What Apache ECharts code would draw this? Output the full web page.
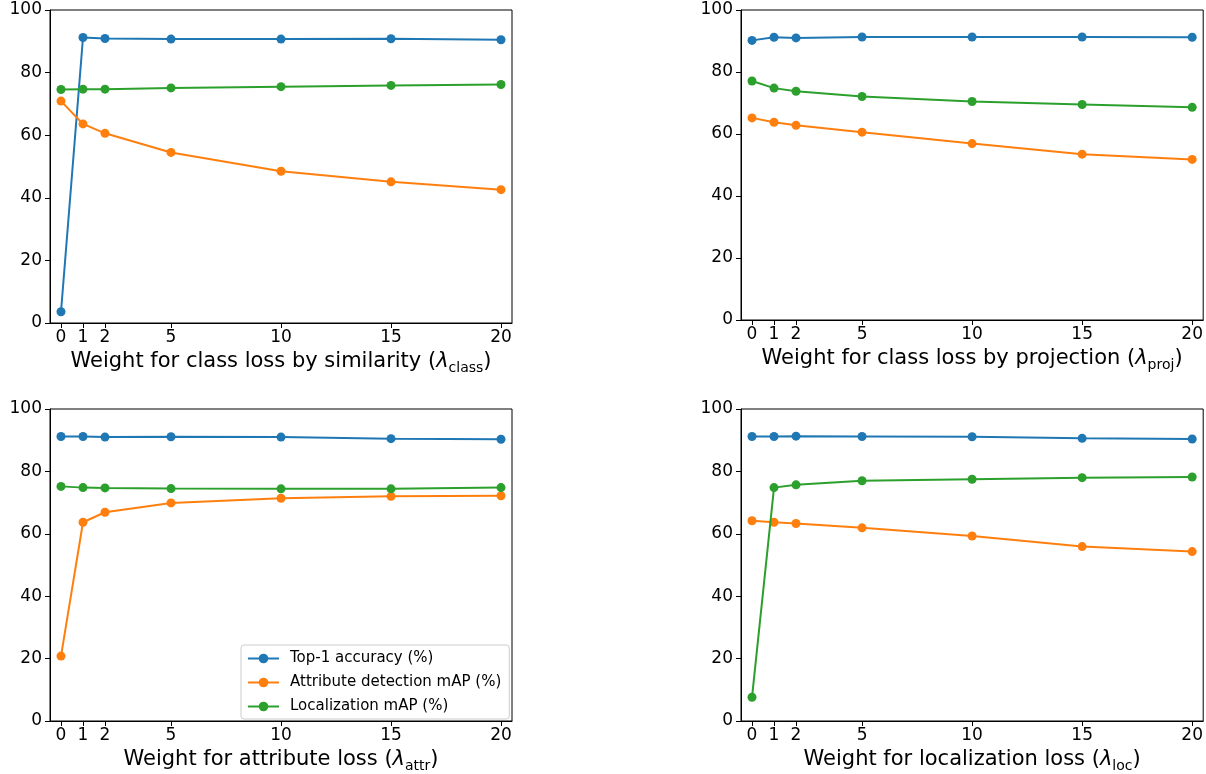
<!DOCTYPE html>
<html>
<head>
<meta charset="utf-8">
<script src="https://cdn.jsdelivr.net/npm/echarts@6/dist/echarts.min.js"></script>
<style>
  html, body { margin: 0; padding: 0; background: #fff; }
  #chart { width: 1206px; height: 774px; }
</style>
</head>
<body>
<div id="chart"></div>
<script>
// x positions (loss weights), same for every panel
const weights = [0, 1, 2, 5, 10, 15, 20]
const seriesNames = ['Top-1 accuracy (%)', 'Attribute detection mAP (%)', 'Localization mAP (%)']
const yTicks = [0, 20, 40, 60, 80, 100]

// panel 1: lambda_class
const classTop1 = [3.6, 91.2, 90.9, 90.7, 90.7, 90.8, 90.5]
const classAttr = [70.9, 63.6, 60.6, 54.5, 48.5, 45.1, 42.6]
const classLoc = [74.6, 74.7, 74.7, 75.1, 75.5, 75.9, 76.2]

// panel 2: lambda_proj
const projTop1 = [90.2, 91.2, 91.0, 91.3, 91.3, 91.3, 91.2]
const projAttr = [65.2, 63.8, 62.8, 60.6, 56.9, 53.5, 51.8]
const projLoc = [77.1, 74.8, 73.8, 72.1, 70.5, 69.5, 68.6]

// panel 3: lambda_attr
const attrTop1 = [91.2, 91.2, 91.0, 91.1, 91.0, 90.5, 90.3]
const attrAttr = [20.8, 63.7, 66.9, 69.9, 71.4, 72.0, 72.2]
const attrLoc = [75.2, 74.8, 74.7, 74.5, 74.4, 74.4, 74.8]

// panel 4: lambda_loc
const locTop1 = [91.2, 91.2, 91.3, 91.2, 91.1, 90.6, 90.4]
const locAttr = [64.2, 63.7, 63.3, 61.9, 59.3, 55.9, 54.3]
const locLoc = [7.6, 74.8, 75.7, 77.0, 77.5, 78.0, 78.2]

const panels = [
  { label: 'Weight for class loss by similarity (', sub: 'class', data: [classTop1, classAttr, classLoc] },
  { label: 'Weight for class loss by projection (', sub: 'proj', data: [projTop1, projAttr, projLoc] },
  { label: 'Weight for attribute loss (', sub: 'attr', data: [attrTop1, attrAttr, attrLoc] },
  { label: 'Weight for localization loss (', sub: 'loc', data: [locTop1, locAttr, locLoc] }
]

const colors = ['#1f77b4', '#ff7f0e', '#2ca02c']
const font = 'DejaVu Sans'

const grids = [
  { left: 50, top: 10, width: 462, height: 313 },
  { left: 741, top: 10, width: 463, height: 310 },
  { left: 50, top: 409, width: 462, height: 313 },
  { left: 741, top: 409, width: 463, height: 313 }
].map(g => Object.assign(g, { show: true, borderColor: '#000', borderWidth: 1, containLabel: false }))

const xAxes = panels.map((p, i) => ({
  type: 'value',
  gridIndex: i,
  min: -0.5,
  max: 20.5,
  axisLine: { show: true, onZero: false, lineStyle: { color: '#000' } },
  axisTick: { show: true, length: 5, customValues: weights, lineStyle: { color: '#000' } },
  axisLabel: { customValues: weights, fontSize: 17, color: '#000', fontFamily: font, margin: 6 },
  splitLine: { show: false },
  name: '{n|' + p.label + '}{l|λ}{s|' + p.sub + '}{n|)}',
  nameLocation: 'middle',
  nameGap: 27,
  nameTextStyle: {
    fontFamily: font,
    color: '#000',
    rich: {
      n: { fontSize: 21, fontFamily: font, color: '#000', verticalAlign: 'top', height: 24 },
      l: { fontSize: 21, fontFamily: font, fontStyle: 'italic', color: '#000', verticalAlign: 'top', height: 24 },
      s: { fontSize: 14, fontFamily: font, color: '#000', verticalAlign: 'top', padding: [11, 0, 0, 0] }
    }
  }
}))

const yAxes = panels.map((p, i) => ({
  type: 'value',
  gridIndex: i,
  min: yTicks[0],
  max: yTicks[yTicks.length - 1],
  interval: 20,
  axisLine: { show: true, onZero: false, lineStyle: { color: '#000' } },
  axisTick: { show: true, length: 5, lineStyle: { color: '#000' } },
  axisLabel: { fontSize: 17, color: '#000', fontFamily: font, margin: 8 },
  splitLine: { show: false }
}))

const series = []
panels.forEach((p, i) => {
  p.data.forEach((vals, k) => {
    series.push({
      name: seriesNames[k],
      type: 'line',
      xAxisIndex: i,
      yAxisIndex: i,
      data: weights.map((w, j) => [w, vals[j]]),
      symbol: 'circle',
      symbolSize: 9,
      color: colors[k],
      lineStyle: { width: 2, color: colors[k] },
      itemStyle: { color: colors[k] },
      animation: false,
      z: 3 + k
    })
  })
})

const chart = echarts.init(document.getElementById('chart'))
chart.setOption({
  animation: false,
  grid: grids,
  xAxis: xAxes,
  yAxis: yAxes,
  legend: {
    data: seriesNames,
    orient: 'vertical',
    left: 241,
    top: 645,
    itemWidth: 31,
    itemHeight: 12,
    itemGap: 9,
    padding: [6, 8, 5, 6],
    borderColor: '#ccc',
    borderWidth: 1,
    borderRadius: 3,
    backgroundColor: 'rgba(255,255,255,0.8)',
    textStyle: { fontSize: 15, fontFamily: font, color: '#000', padding: [0, 0, 0, 6] }
  },
  series: series
})
</script>
</body>
</html>
